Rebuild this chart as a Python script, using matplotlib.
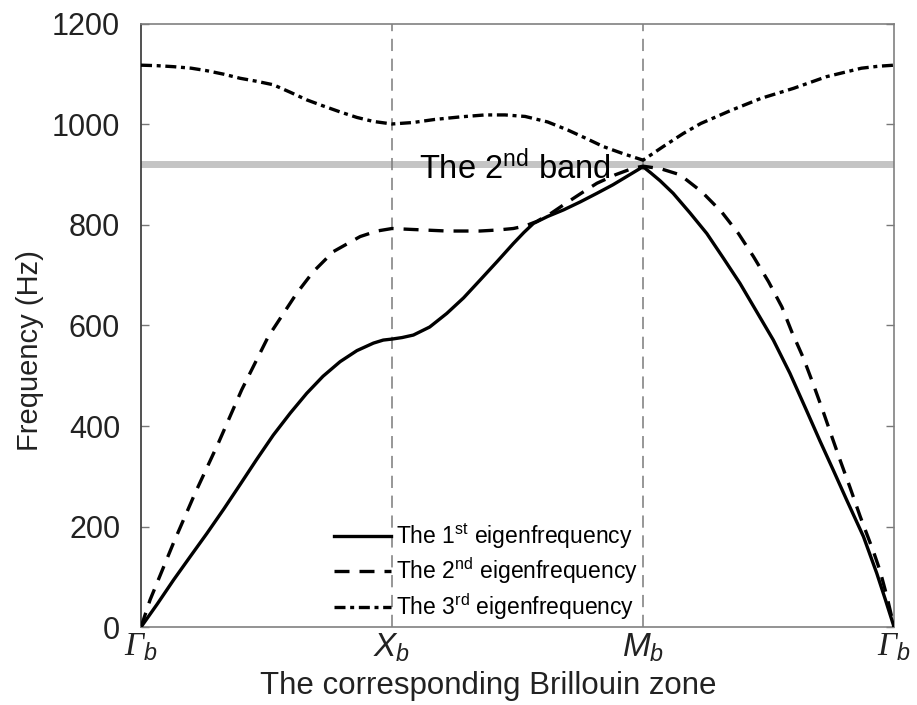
import matplotlib
matplotlib.use("Agg")
import matplotlib.pyplot as plt

plt.rcParams['font.family'] = ['Liberation Sans', 'DejaVu Sans']
plt.rcParams['mathtext.fontset'] = 'custom'
plt.rcParams['mathtext.rm'] = 'Liberation Sans'
plt.rcParams['mathtext.it'] = 'Liberation Sans:italic'
plt.rcParams['mathtext.cal'] = 'Liberation Serif:italic'   # used for the italic Γ

# ── data (k: 0=Γ, 1=X, 2=M, 3=Γ) ───────────────────────────────
k1 = [0, 0.065, 0.13, 0.2, 0.262, 0.33, 0.394, 0.46, 0.527, 0.595, 0.66, 0.725,
      0.793, 0.86, 0.926, 0.965, 1.0, 1.04, 1.085, 1.15, 1.218, 1.285, 1.35,
      1.42, 1.483, 1.525, 1.563, 1.62, 1.683, 1.75, 1.816, 1.88, 1.94, 2.0,
      2.03, 2.068, 2.12, 2.187, 2.254, 2.32, 2.386, 2.452, 2.519, 2.585, 2.652,
      2.705, 2.758, 2.811, 2.878, 2.931, 2.965, 3.0]
f1 = [0, 46, 94, 143, 186, 235, 283, 333, 382, 426, 465, 499,
      528, 550, 565, 571, 573, 576, 581, 597, 624, 655, 690,
      728, 763, 785, 803, 817, 830, 846, 863, 880, 898, 916,
      904, 888, 863, 824, 783, 734, 684, 628, 571, 505, 430,
      370, 312, 253, 180, 107, 55, 0]

k2 = [0, 0.036, 0.129, 0.215, 0.308, 0.401, 0.507, 0.62, 0.686, 0.766, 0.873,
      0.94, 1.0, 1.085, 1.218, 1.35, 1.42, 1.483, 1.53, 1.576, 1.63, 1.683,
      1.75, 1.816, 1.89, 1.96, 2.0, 2.07, 2.147, 2.234, 2.313, 2.38, 2.44,
      2.5, 2.553, 2.592, 2.639, 2.679, 2.718, 2.752, 2.785, 2.825, 2.865,
      2.918, 2.944, 2.971, 3.0]
f2 = [0, 54, 167, 266, 366, 472, 578, 664, 707, 747, 777,
      788, 793, 791, 788, 788, 790, 793, 798, 807, 822, 840,
      862, 883, 900, 913, 917, 912, 900, 866, 826, 783, 737,
      687, 637, 588, 535, 482, 428, 379, 332, 277, 220,
      150, 112, 62, 0]

k3 = [0, 0.065, 0.13, 0.2, 0.262, 0.33, 0.394, 0.46, 0.527, 0.595, 0.66, 0.725,
      0.793, 0.86, 0.926, 1.0, 1.085, 1.17, 1.27, 1.37, 1.45, 1.53, 1.62,
      1.70, 1.77, 1.842, 1.92, 2.0, 2.08, 2.16, 2.23, 2.35, 2.47, 2.6, 2.73,
      2.87, 2.94, 3.0]
f3 = [1118, 1117, 1115, 1112, 1107, 1100, 1092, 1086, 1079, 1064, 1049, 1037,
      1025, 1014, 1006, 1001, 1004, 1010, 1015, 1019, 1019, 1016, 1005,
      989, 973, 956, 942, 929, 956, 982, 1002, 1028, 1052, 1072, 1095,
      1112, 1116, 1118]

band_top = 922
sym_pos = [0, 1, 2, 3]
sym_labels = [r'$\mathcal{\Gamma}_b$', r'$X_b$', r'$M_b$', r'$\mathcal{\Gamma}_b$']
legend_labels = [r'The 1$^{\mathrm{st}}$ eigenfrequency',
                 r'The 2$^{\mathrm{nd}}$ eigenfrequency',
                 r'The 3$^{\mathrm{rd}}$ eigenfrequency']

fig = plt.figure(figsize=(9.17, 7.05), dpi=100)
ax = fig.add_axes([0.1538, 0.1106, 0.8212, 0.8554])

# gray band line + symmetry-point guides
ax.axhline(band_top, color='#c4c4c4', lw=5, zorder=1)
for xp in sym_pos[1:3]:
    ax.axvline(xp, color='#7a7a7a', lw=1.1, linestyle=(0, (8, 5)), zorder=1)

ax.plot(k1, f1, color='k', lw=2.4, label=legend_labels[0], zorder=3)
ax.plot(k2, f2, color='k', lw=2.4, linestyle=(0, (4.5, 3)), label=legend_labels[1], zorder=3)
ax.plot(k3, f3, color='k', lw=2.4, linestyle=(0, (3.3, 1.4, 1.2, 1.4)),
        label=legend_labels[2], zorder=3)

ax.text(1.49, band_top - 8, r'The 2$^{\mathrm{nd}}$ band', fontsize=23.5,
        ha='center', va='center', zorder=4)

ax.set_xlim(0, 3)
ax.set_ylim(0, 1200)
ax.set_yticks(range(0, 1201, 200))
ax.set_xticks(sym_pos)
ax.set_xticklabels(sym_labels, fontsize=24)
ax.tick_params(axis='y', direction='in', length=6, width=1, right=True, pad=15,
               labelsize=22, colors='#777777', labelcolor='#222222')
ax.tick_params(axis='x', length=0, pad=3, labelcolor='#222222')

ax.spines['left'].set_color('#333333')
for s in ['top', 'right', 'bottom']:
    ax.spines[s].set_color('#808080')
for s in ax.spines.values():
    s.set_linewidth(1.2)

ax.set_ylabel('Frequency (Hz)', fontsize=21, color='#222222')
ax.yaxis.set_label_coords(-0.147, 0.458)
ax.yaxis.label.set_va('center')
ax.set_xlabel('The corresponding Brillouin zone', fontsize=22.5, color='#222222')
ax.xaxis.set_label_coords(0.461, -0.098)
ax.xaxis.label.set_va('center')

leg = ax.legend(loc='lower center', bbox_to_anchor=(0.458, -0.026), frameon=False,
                fontsize=16.5, handlelength=2.5, handletextpad=0.2, labelspacing=0.22)

fig.savefig('out.png', dpi=100)
